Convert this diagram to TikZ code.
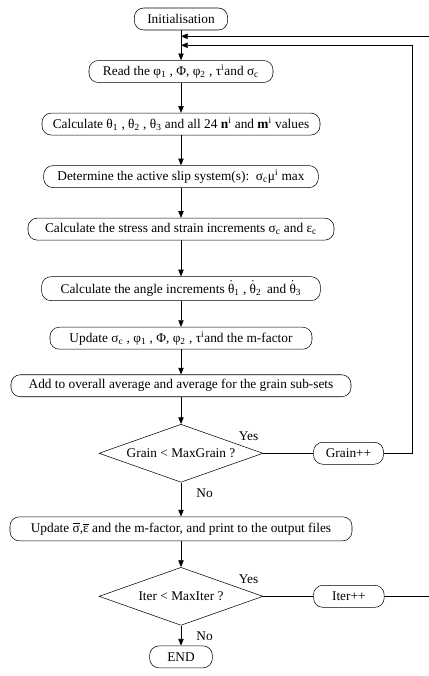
\documentclass[tikz,border=0pt]{standalone}
\usepackage{fontspec}
\setmainfont{Liberation Serif}
\usetikzlibrary{arrows.meta,positioning,shapes.geometric}
\newcommand{\dth}[1]{$\dot{\mbox{θ}}$\textsubscript{#1}}
\newcommand{\bsym}[1]{$\overline{\mbox{#1}}$}
\tikzset{
  proc/.style={draw,rectangle,rounded corners=7pt,minimum height=16.5pt,inner sep=2pt},
  dec/.style={draw,diamond,aspect=2.8,minimum width=123pt,minimum height=43.5pt,inner sep=0pt},
  arr/.style={-{Triangle[length=5pt,width=4pt]},line width=0.5pt},
  link/.style={line width=0.5pt}
}
\begin{document}
\begin{tikzpicture}[x=0.75pt,y=0.75pt,every node/.style={font=\fontsize{10}{12}\selectfont,align=center}]
\useasboundingbox (0,0) rectangle (429,-676);
\node[proc,minimum width=70pt] (init) at (181,-19) {Initialisation};
\node[proc,below=22.5pt of init,minimum width=138pt] (read) {Read the φ\textsubscript{1} , Φ, φ\textsubscript{2} , τ\textsuperscript{i}and σ\textsubscript{c}};
\node[proc,below=22.5pt of read,minimum width=208.5pt] (angles) {Calculate θ\textsubscript{1} , θ\textsubscript{2} , θ\textsubscript{3} and all 24 \textbf{n}\textsuperscript{i} and \textbf{m}\textsuperscript{i} values};
\node[proc,below=22.5pt of angles,minimum width=206pt] (slip) {Determine the active slip system(s):\enspace σ\textsubscript{c}μ\textsuperscript{i} max};
\node[proc,below=22.5pt of slip,minimum width=229.5pt] (incr) {Calculate the stress and strain increments σ\textsubscript{c} and ε\textsubscript{c}};
\node[proc,below=27pt of incr,minimum width=209pt,minimum height=18pt] (rate) {Calculate the angle increments \dth{1} , \dth{2}\, and \dth{3}};
\node[proc,below=19.5pt of rate,minimum width=196.5pt] (upd) {Update σ\textsubscript{c} , φ\textsubscript{1} , Φ, φ\textsubscript{2} , τ\textsuperscript{i}and the m-factor};
\node[proc,below=18.75pt of upd,minimum width=255pt] (avg) {Add to overall average and average for the grain sub-sets};
\node[dec,below=20.25pt of avg] (grain) {Grain < MaxGrain ?};
\node[proc,right=37.5pt of grain,minimum width=52.5pt] (grainpp) {Grain++};
\node[proc,below=25.5pt of grain,minimum width=256.5pt,minimum height=18pt] (out) {Update \bsym{σ},\bsym{ε} and the m-factor, and print to the output files};
\node[dec,below=19.5pt of out] (iter) {Iter < MaxIter ?};
\node[proc,right=37.5pt of iter,minimum width=53pt] (iterpp) {Iter++};
\node[proc,below=15pt of iter,minimum width=47pt] (end) {END};
% labels of the two decisions
\node[above=6pt of grain.east,xshift=-11pt] (gyes) {Yes};
\node[below right=1pt and 8pt of grain.south] (gno) {No};
\node[above=6pt of iter.east,xshift=-11pt] (iyes) {Yes};
\node[below right=1pt and 8pt of iter.south] (ino) {No};
% main flow
\draw[arr] (init)--(read); \draw[arr] (read)--(angles); \draw[arr] (angles)--(slip);
\draw[arr] (slip)--(incr); \draw[arr] (incr)--(rate); \draw[arr] (rate)--(upd);
\draw[arr] (upd)--(avg); \draw[arr] (avg)--(grain); \draw[arr] (grain)--(out);
\draw[arr] (out)--(iter); \draw[arr] (iter)--(end);
% loops back to the top
\coordinate[below=4.5pt of init.south] (jiter);
\coordinate[below=11.25pt of init.south] (jgrain);
\coordinate[right=21.75pt of grainpp.east] (cgrain);
\coordinate[right=34.5pt of iterpp.east] (citer);
\draw[link] (grain.east)--(grainpp.west); \draw[link] (iter.east)--(iterpp.west);
\draw[arr] (grainpp.east)--(cgrain)|-(jgrain);
\draw[arr] (iterpp.east)--(citer)|-(jiter);
\end{tikzpicture}
\end{document}
